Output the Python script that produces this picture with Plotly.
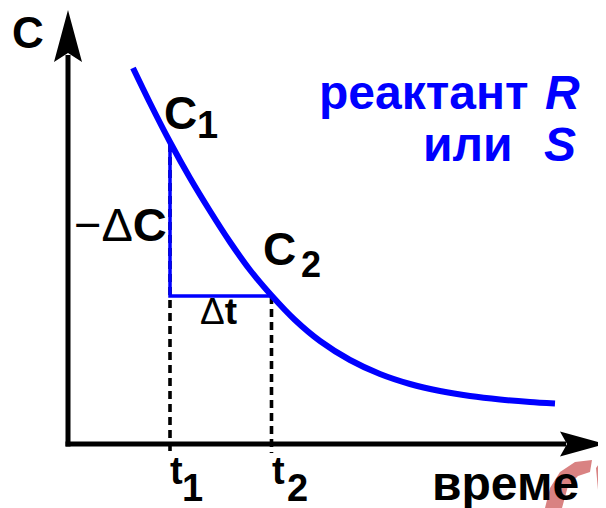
import plotly.graph_objects as go

# ---- data (time and concentration in arbitrary units) ----
time_pts = [1.30, 1.64, 2.04, 2.44, 2.84, 3.24, 3.64, 4.08, 4.54, 5.04, 5.64,
            6.24, 6.84, 7.44, 8.04, 8.64, 9.24, 9.74]
conc_pts = [7.52, 6.82, 6.04, 5.32, 4.66, 4.04, 3.48, 2.96, 2.48, 2.06, 1.68,
            1.40, 1.20, 1.06, 0.96, 0.89, 0.84, 0.81]
t1, t2 = 2.04, 4.07
c1, c2 = 6.00, 2.96

# axis extents
X_TIP, Y_TIP = 10.74, 8.68
DASH_BOTTOM = -0.18

# figure size (the page body adds an 8px margin at left/top)
W, H = 598, 500
PX = 50.0               # pixels per data unit
X0_PX, Y0_PX = 60, 436  # origin position inside the figure
X_MIN, X_MAX = -X0_PX / PX, (W - X0_PX) / PX
Y_MIN, Y_MAX = -(H - Y0_PX) / PX, Y0_PX / PX

FONT = "Liberation Sans, Arial, sans-serif"
BLUE = "#0000FF"

fig = go.Figure()

# dashed projections
for tv, cv in [(t1, c1), (t2, c2)]:
    fig.add_trace(go.Scatter(x=[tv, tv], y=[cv, DASH_BOTTOM], mode="lines",
                             line=dict(color="black", width=3.6, dash="8px,5px"),
                             hoverinfo="skip"))
# triangle
fig.add_trace(go.Scatter(x=[t1, t1, t2], y=[c1, c2, c2], mode="lines",
                         line=dict(color=BLUE, width=3.5), hoverinfo="skip"))
# decay curve
fig.add_trace(go.Scatter(x=time_pts, y=conc_pts, mode="lines",
                         line=dict(color=BLUE, width=6, shape="spline", smoothing=0.8),
                         hoverinfo="skip"))

shapes = [
    # faint logo fragment in the bottom-right corner
    dict(type="path", layer="below",
         path="M 9.54 -1.28 L 9.64 -0.88 L 9.84 -0.56 L 10.14 -0.36 L 10.48 -0.32 "
              "L 10.44 -0.56 L 10.20 -0.64 L 10.00 -0.84 L 9.88 -1.28 Z",
         fillcolor="#d98282", line=dict(width=0)),
    dict(type="path", layer="below",
         path="M 10.56 -0.48 L 10.70 -0.28 L 10.76 -0.24 L 10.76 -1.00 L 10.60 -0.92 Z",
         fillcolor="#d98282", line=dict(width=0)),
    # y axis
    dict(type="line", x0=0, x1=0, y0=-0.05, y1=Y_TIP - 0.9,
         line=dict(color="black", width=5)),
    # x axis
    dict(type="line", x0=-0.05, x1=X_TIP - 0.78, y0=0, y1=0,
         line=dict(color="black", width=5)),
    # y arrowhead
    dict(type="path",
         path=f"M 0 {Y_TIP} L 0.28 {Y_TIP-1.04} L 0 {Y_TIP-0.86} L -0.28 {Y_TIP-1.04} Z",
         fillcolor="black", line=dict(width=0)),
    # x arrowhead
    dict(type="path",
         path=f"M {X_TIP} 0 L {X_TIP-0.90} 0.25 L {X_TIP-0.76} 0 L {X_TIP-0.90} -0.25 Z",
         fillcolor="black", line=dict(width=0)),
]


def ann(x, y, text, size, color="black", xanchor="center"):
    return dict(x=x, y=y, xref="x", yref="y", text=text, showarrow=False,
                xanchor=xanchor, yanchor="middle",
                font=dict(family=FONT, size=size, color=color))


annotations = [
    ann(-0.81, 8.23, "<b>C</b>", 44),
    ann(2.24, 6.63, "<b>C</b>", 46),
    ann(2.78, 6.38, "<b>1</b>", 38),
    ann(4.23, 3.90, "<b>C</b>", 46),
    ann(4.86, 3.59, "<b>2</b>", 36),
    ann(1.04, 4.40, "−Δ<b>C</b>", 47),
    ann(3.01, 2.66, "Δ<b>t</b>", 37),
    ann(2.16, -0.53, "<b>t</b>", 38),
    ann(2.48, -0.87, "<b>1</b>", 38),
    ann(4.21, -0.53, "<b>t</b>", 38),
    ann(4.58, -0.87, "<b>2</b>", 38),
    ann(8.74, -0.78, "<b>време</b>", 48),
    ann(7.10, 7.03, "<b>реактант</b>", 48, BLUE),
    ann(9.89, 7.03, "<b><i>R</i></b>", 48, BLUE),
    ann(7.99, 5.99, "<b>или</b>", 48, BLUE),
    ann(9.84, 5.99, "<b><i>S</i></b>", 48, BLUE),
]

fig.update_layout(
    width=W, height=H,
    margin=dict(l=0, r=0, t=0, b=0),
    paper_bgcolor="white", plot_bgcolor="white",
    showlegend=False,
    xaxis=dict(range=[X_MIN, X_MAX], visible=False, fixedrange=True),
    yaxis=dict(range=[Y_MIN, Y_MAX], visible=False, fixedrange=True),
    shapes=shapes,
    annotations=annotations,
)

fig.write_html("out.html")
